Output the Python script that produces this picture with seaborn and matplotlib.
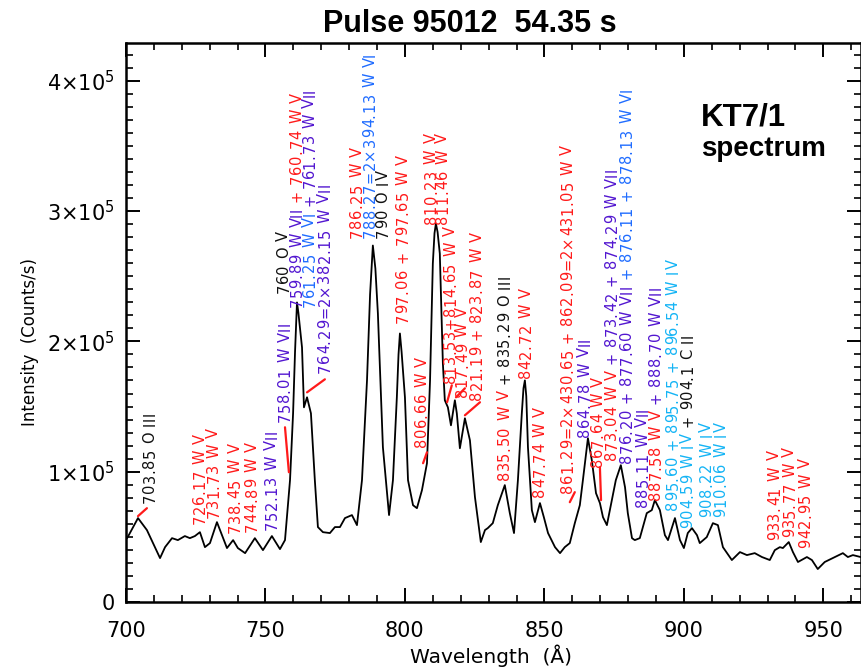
import matplotlib
matplotlib.use("Agg")
import matplotlib.pyplot as plt
import seaborn as sns
import pandas as pd
from matplotlib import transforms as mtransforms
from matplotlib.ticker import MultipleLocator, FixedLocator, FixedFormatter
from matplotlib.font_manager import FontProperties

# ---------------- data ----------------
wavelength = [700.4, 701.4, 704.3, 707.5, 709.7, 712.2, 714.0, 716.5, 718.6, 721.1,
              722.9, 724.7, 726.5, 728.3, 730.1, 732.6, 734.4, 736.2, 738.4, 740.1,
              742.7, 746.2, 749.1, 752.3, 755.2, 757.0, 758.8, 759.9, 760.6, 761.3,
              761.8, 763.1, 763.8, 764.9, 766.3, 767.7, 768.8, 770.6, 773.1, 774.9,
              776.7, 778.5, 781.0, 782.8, 784.6, 786.4, 787.5, 788.5, 789.4, 790.3,
              792.1, 794.3, 795.7, 797.1, 797.7, 798.2, 798.8, 800.0, 801.1, 802.9,
              804.3, 806.1, 807.9, 809.0, 810.0, 810.6, 811.1, 811.7, 812.5, 813.6,
              814.3, 815.4, 816.5, 817.9, 818.6, 819.7, 821.5, 823.3, 825.1, 827.2,
              828.7, 829.7, 831.5, 833.3, 835.8, 837.6, 839.1, 840.5, 841.9, 842.5,
              843.0, 843.5, 844.1, 845.5, 846.6, 848.4, 849.8, 851.3, 853.8, 855.6,
              857.3, 859.1, 860.9, 862.7, 863.8, 865.6, 867.0, 868.5, 869.9, 871.0,
              872.4, 874.2, 875.6, 877.4, 878.9, 879.9, 881.4, 882.4, 884.2, 885.7,
              886.7, 888.5, 889.6, 891.4, 893.2, 894.3, 896.8, 898.6, 900.0, 901.4,
              902.9, 904.7, 905.7, 908.2, 910.4, 912.2, 914.0, 917.2, 920.1, 922.6,
              925.4, 928.0, 930.8, 932.6, 934.4, 935.5, 937.6, 939.1, 940.9, 944.1,
              945.9, 948.0, 950.5, 953.4, 957.0, 958.8, 960.6, 963.4]
intensity = [49000, 52900, 64400, 55200, 45200, 33700, 42100, 49000, 47500, 50600,
             49000, 50600, 53600, 42100, 45200, 61300, 51300, 41400, 47500, 41400,
             37500, 49000, 39800, 50600, 40600, 47500, 93500, 144800, 192000, 229900,
             222000, 195400, 149400, 157100, 144800, 93500, 57500, 53600, 52900, 57500,
             57500, 64400, 66700, 59000, 93500, 170100, 236000, 273600, 256000, 221500,
             118800, 66700, 93500, 157100, 190000, 206100, 192000, 157100, 93500, 74300,
             72000, 85800, 106500, 170100, 259800, 283000, 290400, 284000, 267400, 183100,
             154800, 149400, 135600, 154800, 144800, 118000, 141000, 124100, 80500, 46000,
             55200, 56700, 60500, 74300, 89700, 68200, 52900, 93500, 144800, 164000,
             170100, 158000, 118800, 70500, 61300, 75900, 65100, 52900, 42100, 37500,
             42100, 45200, 60500, 74300, 93500, 125700, 108800, 83500, 75900, 65100,
             59000, 78200, 93500, 105000, 88100, 68200, 49000, 47500, 49000, 60500,
             68200, 70500, 78200, 70500, 51300, 47500, 64400, 47500, 41400, 52900,
             56700, 51300, 45200, 49800, 60500, 59000, 42100, 32200, 38300, 36000,
             37500, 34500, 32200, 39800, 42100, 41400, 46000, 38300, 30700, 34500,
             32200, 25300, 30700, 33700, 37500, 34500, 36000, 34500]

RED, PURPLE, BLUE, CYAN, BLACK = "#ff1a1a", "#5216d0", "#1f6cff", "#14b4f5", "#111111"

# line identification labels: list of (text, colour) segments, read bottom to top
label_parts = [
    [("703.85 O III", BLACK)],
    [("726.17 W V", RED)],
    [("731.73 W V", RED)],
    [("738.45 W V", RED)],
    [("744.89 W V", RED)],
    [("752.13 W VII", PURPLE)],
    [("758.01 W VII", PURPLE)],
    [("760 O V", BLACK)],
    [("759.89 W VII ", PURPLE), ("+ 760.74 W V", RED)],
    [("761.25 W VI ", BLUE), ("+ 761.73 W VII", PURPLE)],
    [("764.29=2×382.15 W VII", PURPLE)],
    [("786.25 W V", RED)],
    [("788.27=2×394.13 W VI", BLUE)],
    [("790 O IV", BLACK)],
    [("797.06 + 797.65 W V", RED)],
    [("806.66 W V", RED)],
    [("810.23 W V", RED)],
    [("811.46 W V", RED)],
    [("813.53+814.65 W V", RED)],
    [("817.49 W V", RED)],
    [("821.19 + 823.87 W V", RED)],
    [("835.50 W V ", RED), ("+ 835.29 O III", BLACK)],
    [("842.72 W V", RED)],
    [("847.74 W V", RED)],
    [("861.29=2×430.65 + 862.09=2×431.05 W V", RED)],
    [("864.78 W VII", PURPLE)],
    [("867.64 W V", RED)],
    [("873.04 W V ", RED), ("+ 873.42 + 874.29 W VII", PURPLE)],
    [("876.20 + 877.60 W VII ", PURPLE), ("+ 876.11 + 878.13 W VI", BLUE)],
    [("885.11 W VII", PURPLE)],
    [("887.58 W V ", RED), ("+ 888.70 W VII", PURPLE)],
    [("895.60 + 895.75 + 896.54 W IV", CYAN)],
    [("904.59 W IV ", CYAN), ("+ 904.1 C II", BLACK)],
    [("908.22 W IV", CYAN)],
    [("910.06 W IV", CYAN)],
    [("933.41 W V", RED)],
    [("935.77 W V", RED)],
    [("942.95 W V", RED)],
]

# ---------------- layout (label anchors in data units) ----------------
label_x = [708.6, 726.5, 731.5, 739.1, 745.2, 752.3, 757.0, 756.6, 761.3, 765.9,
           771.3, 782.8, 787.5, 792.1, 799.3, 806.1, 809.5, 813.6, 816.4, 820.6,
           825.8, 835.8, 843.4, 848.4, 858.4, 864.5, 869.2, 874.2, 879.6, 885.3,
           890.0, 896.1, 901.4, 908.2, 913.3, 932.6, 938.0, 943.7]
label_y = [75900, 59800, 64400, 52900, 53600, 55200, 137900, 236800, 226100, 226100,
           175500, 279700, 279700, 279700, 213800, 118800, 290400, 290400, 167800, 157100,
           154800, 93500, 171600, 80500, 83500, 126400, 103400, 108800, 106500, 72800,
           78200, 70500, 56700, 65100, 65100, 47500, 49800, 41400]
leaders = [((704.3, 65900), (707.5, 72000)),
           ((758.4, 99600), (757.0, 134100)),
           ((764.9, 160900), (771.3, 170900)),
           ((806.5, 106500), (807.9, 114900)),
           ((815.1, 153300), (816.8, 166300)),
           ((818.3, 157100), (821.5, 164000)),
           ((821.5, 143300), (826.9, 153300)),
           ((859.1, 76600), (860.9, 84300)),
           ((869.9, 103400), (870.3, 78200))]

W, H, DPI = 861, 667, 100
sns.set_theme(style="ticks")
plt.rcParams["font.family"] = ["DejaVu Sans"]
plt.rcParams["mathtext.fontset"] = "dejavusans"

fig = plt.figure(figsize=(W / DPI, H / DPI), dpi=DPI)
fig.patch.set_facecolor("white")
ax = fig.add_axes([126 / W, 1 - 602 / H, (861 - 126) / W, (602 - 43) / H])
ax.set_facecolor("white")

df = pd.DataFrame({"wavelength": wavelength, "intensity": intensity})
sns.lineplot(data=df, x="wavelength", y="intensity", color="black", lw=1.3, ax=ax)

ax.set_xlim(700, 963.5)
ax.set_ylim(0, 4.29e5)
ax.set_xlabel("")
ax.set_ylabel("")

ax.xaxis.set_major_locator(MultipleLocator(50))
ax.xaxis.set_minor_locator(MultipleLocator(10))
ax.yaxis.set_major_locator(FixedLocator([0, 1e5, 2e5, 3e5, 4e5]))
ax.yaxis.set_major_formatter(FixedFormatter(["0", r"$1{\times}10^5$", r"$2{\times}10^5$",
                                             r"$3{\times}10^5$", r"$4{\times}10^5$"]))
ax.yaxis.set_minor_locator(MultipleLocator(1e4))
ax.tick_params(which="both", direction="in", top=True, right=True, color="black",
               labelsize=15, labelcolor="black")
ax.tick_params(which="major", length=10, width=1.4)
ax.tick_params(which="minor", length=5, width=1.2)
ax.tick_params(axis="x", which="major", pad=14)
ax.tick_params(axis="y", which="major", pad=8)
for sp in ax.spines.values():
    sp.set_visible(True)
    sp.set_linewidth(1.8)
    sp.set_color("black")

# leader lines
for (a, b) in leaders:
    ax.plot([a[0], b[0]], [a[1], b[1]], color=RED, lw=1.6)

# multi-coloured vertical labels, drawn character by character with a little tracking
fig.canvas.draw()
renderer = fig.canvas.get_renderer()
fp = FontProperties(family="DejaVu Sans", size=10.5)
TRACK = 0.6  # extra pixels between characters
_w0 = renderer.get_text_width_height_descent("||", fp, ismath=False)[0]
_adv = {}


def advance(ch):
    if ch not in _adv:
        w1 = renderer.get_text_width_height_descent("|" + ch + "|", fp, ismath=False)[0]
        _adv[ch] = w1 - _w0
    return _adv[ch]


for x, y, parts in zip(label_x, label_y, label_parts):
    off = 0.0
    for text, col in parts:
        for ch in text:
            if ch != " ":
                tr = mtransforms.offset_copy(ax.transData, fig=fig, x=0, y=off, units="dots")
                ax.text(x, y, ch, transform=tr, rotation=90, rotation_mode="anchor",
                        ha="left", va="center", color=col, fontproperties=fp, clip_on=False)
            off += advance(ch) + TRACK

# titles and annotations
fig.text(470 / W, 1 - 24 / H, "Pulse 95012  54.35 s", ha="center", va="center",
         fontsize=22, fontweight="bold", family="Liberation Sans", color="black")
fig.text(701 / W, 1 - 117 / H, "KT7/1", ha="left", va="center",
         fontsize=22.5, fontweight="bold", family="Liberation Sans", color="black")
fig.text(701 / W, 1 - 149 / H, "spectrum", ha="left", va="center",
         fontsize=20, fontweight="bold", family="Liberation Sans", color="black")
fig.text(491 / W, 1 - 656 / H, "Wavelength  (Å)", ha="center", va="center",
         fontsize=14.5, color="black")
fig.text(30 / W, 1 - 342 / H, "Intensity  (Counts/s)", ha="center", va="center",
         rotation=90, fontsize=12, color="black")

fig.savefig("out.png", dpi=DPI, facecolor="white")
